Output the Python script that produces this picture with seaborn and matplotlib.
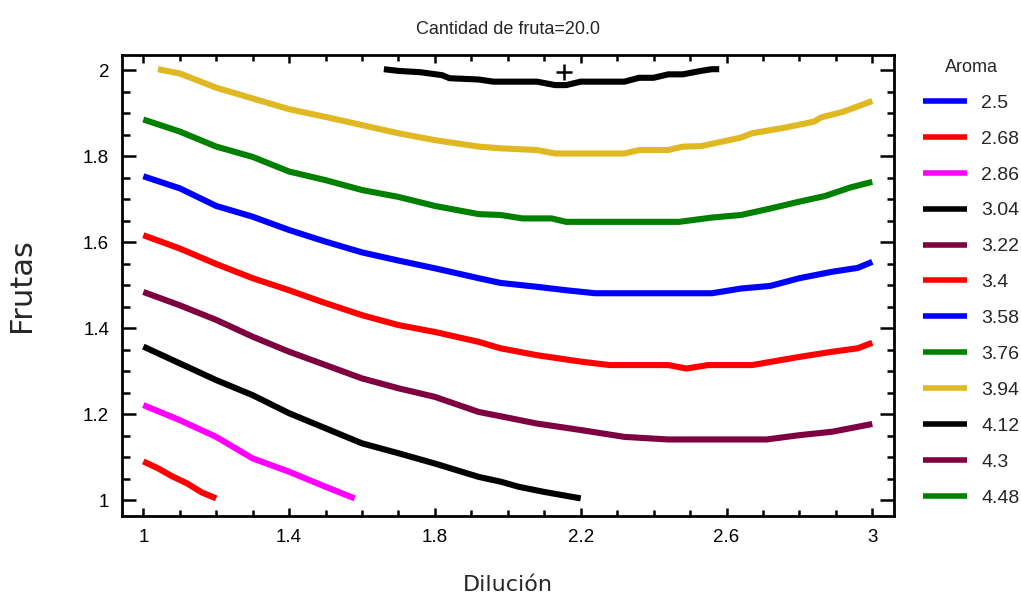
import matplotlib
matplotlib.use("Agg")
import matplotlib.pyplot as plt
import seaborn as sns
from matplotlib.lines import Line2D
from matplotlib.ticker import FixedLocator, FuncFormatter

# contour levels of Aroma and their colours (legend order)
levels = ["2.5", "2.68", "2.86", "3.04", "3.22", "3.4", "3.58", "3.76", "3.94", "4.12", "4.3", "4.48"]
level_colors = ["#0000ff", "#ff0000", "#ff00ff", "#000000", "#7f0040", "#ff0000",
                "#0000ff", "#008000", "#e0b822", "#000000", "#7f0040", "#008000"]

# contour lines (Dilución, Frutas)
x_268 = [1.0, 1.04, 1.08, 1.12, 1.16, 1.2]
y_268 = [1.09, 1.074, 1.055, 1.039, 1.018, 1.004]

x_286 = [1.0, 1.1, 1.2, 1.3, 1.4, 1.5, 1.58]
y_286 = [1.221, 1.186, 1.147, 1.097, 1.066, 1.031, 1.004]

x_304 = [1.0, 1.1, 1.2, 1.3, 1.4, 1.5, 1.6, 1.7, 1.8, 1.92, 1.98, 2.03, 2.1, 2.2]
y_304 = [1.357, 1.318, 1.279, 1.244, 1.202, 1.167, 1.132, 1.109, 1.085, 1.054, 1.043, 1.031, 1.019, 1.004]

x_322 = [1.0, 1.1, 1.2, 1.3, 1.4, 1.5, 1.6, 1.7, 1.8, 1.92, 1.98, 2.08, 2.2, 2.32, 2.44,
         2.71, 2.8, 2.89, 3.0]
y_322 = [1.484, 1.453, 1.419, 1.38, 1.345, 1.314, 1.283, 1.26, 1.24, 1.205, 1.195, 1.178, 1.163,
         1.147, 1.141, 1.141, 1.151, 1.159, 1.177]

x_340 = [1.0, 1.1, 1.2, 1.3, 1.4, 1.49, 1.6, 1.7, 1.8, 1.92, 1.98, 2.08, 2.2, 2.28, 2.44,
         2.49, 2.55, 2.67, 2.8, 2.89, 2.96, 3.0]
y_340 = [1.616, 1.585, 1.549, 1.516, 1.488, 1.461, 1.43, 1.407, 1.391, 1.368, 1.353, 1.337, 1.322,
         1.314, 1.314, 1.306, 1.314, 1.314, 1.333, 1.345, 1.353, 1.366]

x_358 = [1.0, 1.1, 1.2, 1.3, 1.4, 1.5, 1.6, 1.7, 1.8, 1.92, 1.98, 2.08, 2.16, 2.24, 2.56,
         2.64, 2.72, 2.8, 2.89, 2.96, 3.0]
y_358 = [1.753, 1.725, 1.684, 1.659, 1.628, 1.601, 1.576, 1.557, 1.539, 1.516, 1.505, 1.496, 1.488,
         1.481, 1.481, 1.492, 1.498, 1.516, 1.531, 1.54, 1.554]

x_376 = [1.0, 1.1, 1.2, 1.3, 1.4, 1.5, 1.6, 1.7, 1.8, 1.92, 1.98, 2.04, 2.12, 2.16, 2.47,
         2.56, 2.64, 2.72, 2.8, 2.87, 2.94, 3.0]
y_376 = [1.885, 1.857, 1.822, 1.798, 1.764, 1.744, 1.721, 1.705, 1.684, 1.665, 1.663, 1.655, 1.655,
         1.647, 1.647, 1.657, 1.663, 1.678, 1.694, 1.707, 1.727, 1.74]

x_394 = [1.04, 1.1, 1.2, 1.3, 1.4, 1.5, 1.6, 1.7, 1.8, 1.92, 1.98, 2.08, 2.13, 2.32, 2.36,
         2.44, 2.48, 2.53, 2.64, 2.67, 2.76, 2.84, 2.86, 2.92, 3.0]
y_394 = [2.002, 1.992, 1.959, 1.934, 1.909, 1.891, 1.872, 1.853, 1.837, 1.822, 1.818, 1.814, 1.806,
         1.806, 1.814, 1.814, 1.822, 1.823, 1.843, 1.853, 1.866, 1.88, 1.89, 1.903, 1.928]

x_412 = [1.66, 1.7, 1.76, 1.82, 1.84, 1.92, 1.96, 2.03, 2.08, 2.13, 2.16, 2.2, 2.32, 2.36,
         2.4, 2.44, 2.48, 2.53, 2.56, 2.58]
y_412 = [2.002, 1.998, 1.995, 1.988, 1.981, 1.978, 1.973, 1.973, 1.973, 1.965, 1.965, 1.973, 1.973,
         1.982, 1.982, 1.99, 1.99, 1.998, 2.002, 2.002]

contours = [
    ("2.68", x_268, y_268),
    ("2.86", x_286, y_286),
    ("3.04", x_304, y_304),
    ("3.22", x_322, y_322),
    ("3.4", x_340, y_340),
    ("3.58", x_358, y_358),
    ("3.76", x_376, y_376),
    ("3.94", x_394, y_394),
    ("4.12", x_412, y_412),
]

# optimum point
opt_x = [2.153]
opt_y = [1.996]

# axis ticks
x_major = [1.0, 1.4, 1.8, 2.2, 2.6, 3.0]
x_minor = [1.0 + 0.1 * i for i in range(21)]
y_major = [1.0, 1.2, 1.4, 1.6, 1.8, 2.0]
y_minor = [1.0 + 0.05 * i for i in range(21)]

sns.set_style("white")
plt.rcParams["font.family"] = ["Liberation Sans Narrow", "Liberation Sans", "DejaVu Sans"]

fig = plt.figure(figsize=(10.21, 6.01), dpi=100)
ax = fig.add_axes([0.1192, 0.1414, 0.7564, 0.7671])

color_of = dict(zip(levels, level_colors))
for lev, xs, ys in contours:
    sns.lineplot(x=xs, y=ys, ax=ax, color=color_of[lev], lw=4.4, sort=False,
                 estimator=None, legend=False, solid_capstyle="butt")

ax.plot(opt_x, opt_y, marker="+", color="black", ms=11, mew=1.8, ls="none")

ax.set_xlim(0.9407, 3.0595)
ax.set_ylim(0.963, 2.035)

ax.xaxis.set_major_locator(FixedLocator(x_major))
ax.xaxis.set_minor_locator(FixedLocator(x_minor))
ax.yaxis.set_major_locator(FixedLocator(y_major))
ax.yaxis.set_minor_locator(FixedLocator(y_minor))
fmt = FuncFormatter(lambda v, p: "%g" % round(v, 2))
ax.xaxis.set_major_formatter(fmt)
ax.yaxis.set_major_formatter(fmt)

ax.tick_params(axis="both", which="both", direction="in", top=True, right=True,
               bottom=True, left=True, width=1.8, color="black",
               labelsize=13.5, labelcolor="black")
ax.tick_params(axis="x", which="major", length=6, pad=9)
ax.tick_params(axis="x", which="minor", length=4)
ax.tick_params(axis="y", which="major", length=10, pad=9)
ax.tick_params(axis="y", which="minor", length=5.4)

for sp in ax.spines.values():
    sp.set_linewidth(2)
    sp.set_color("black")

ax.set_title("Cantidad de fruta=20.0", fontsize=13, pad=15)
ax.set_xlabel("Dilución", fontsize=16, family="DejaVu Sans")
ax.set_ylabel("Frutas", fontsize=22, family="DejaVu Sans")
ax.xaxis.set_label_coords(0.5, -0.127)
ax.yaxis.set_label_coords(-0.111, 0.5)

handles = [Line2D([], [], color=c, lw=4, solid_capstyle="butt") for c in level_colors]
leg = ax.legend(handles, levels, title="Aroma", loc="upper left",
                bbox_to_anchor=(0.904, 0.902), bbox_transform=fig.transFigure,
                frameon=False, fontsize=14, title_fontsize=13, handlelength=2.27,
                handletextpad=0.72, labelspacing=0.94, borderaxespad=0, borderpad=0)

fig.savefig("out.png", dpi=100)
